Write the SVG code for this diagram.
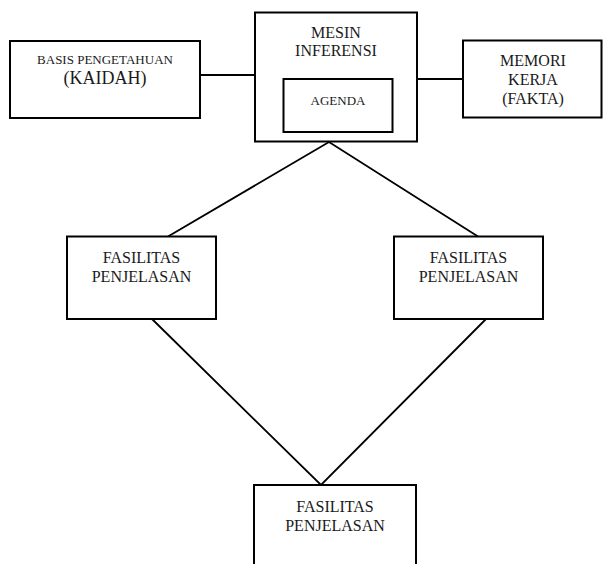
<svg xmlns="http://www.w3.org/2000/svg" width="603" height="564" viewBox="0 0 603 564" font-family="'Liberation Serif', 'Times New Roman', serif">
  <style>
    .box { fill: #ffffff; stroke: #000000; stroke-width: 2; }
    .link { fill: none; stroke: #000000; stroke-width: 1.8; }
    text { font-family: 'Liberation Serif', 'Times New Roman', serif; fill: #1a1a1a; text-anchor: middle; }
    .t16 { font-size: 16px; }
    .t13 { font-size: 13px; }
    .t18 { font-size: 18px; }
  </style>
  <rect width="603" height="564" fill="#ffffff"/>

  <!-- connectors -->
  <g id="connectors">
    <line class="link" x1="200" y1="75" x2="255" y2="75"/>
    <line class="link" x1="417" y1="79" x2="463" y2="79"/>
    <polyline class="link" points="168,236.5 329,142 478,236.5"/>
    <polyline class="link" points="152,319 321,485 486,319"/>
  </g>

  <!-- knowledge base -->
  <g id="basis-pengetahuan">
    <rect class="box" x="10" y="41" width="190" height="77"/>
    <text class="t13" x="105" y="64">BASIS PENGETAHUAN</text>
    <text class="t18" x="105" y="84">(KAIDAH)</text>
  </g>

  <!-- inference engine with agenda -->
  <g id="mesin-inferensi">
    <rect class="box" x="255" y="12.5" width="162" height="129"/>
    <text class="t16" x="336" y="38">MESIN</text>
    <text class="t16" x="336" y="56">INFERENSI</text>
  </g>
  <g id="agenda">
    <rect class="box" x="283.5" y="79" width="109" height="53"/>
    <text class="t13" x="338" y="105">AGENDA</text>
  </g>

  <!-- working memory -->
  <g id="memori-kerja">
    <rect class="box" x="463" y="40.5" width="138.5" height="77"/>
    <text class="t16" x="533" y="66">MEMORI</text>
    <text class="t16" x="533" y="85">KERJA</text>
    <text class="t16" x="533" y="104">(FAKTA)</text>
  </g>

  <!-- explanation facilities -->
  <g id="fasilitas-kiri">
    <rect class="box" x="67" y="236.5" width="149" height="82.5"/>
    <text class="t16" x="141.5" y="263">FASILITAS</text>
    <text class="t16" x="141.5" y="282">PENJELASAN</text>
  </g>
  <g id="fasilitas-kanan">
    <rect class="box" x="394" y="236.5" width="149" height="82.5"/>
    <text class="t16" x="468.5" y="263">FASILITAS</text>
    <text class="t16" x="468.5" y="282">PENJELASAN</text>
  </g>
  <g id="fasilitas-bawah">
    <rect class="box" x="254" y="485" width="162" height="90"/>
    <text class="t16" x="335" y="512">FASILITAS</text>
    <text class="t16" x="335" y="531">PENJELASAN</text>
  </g>
</svg>
